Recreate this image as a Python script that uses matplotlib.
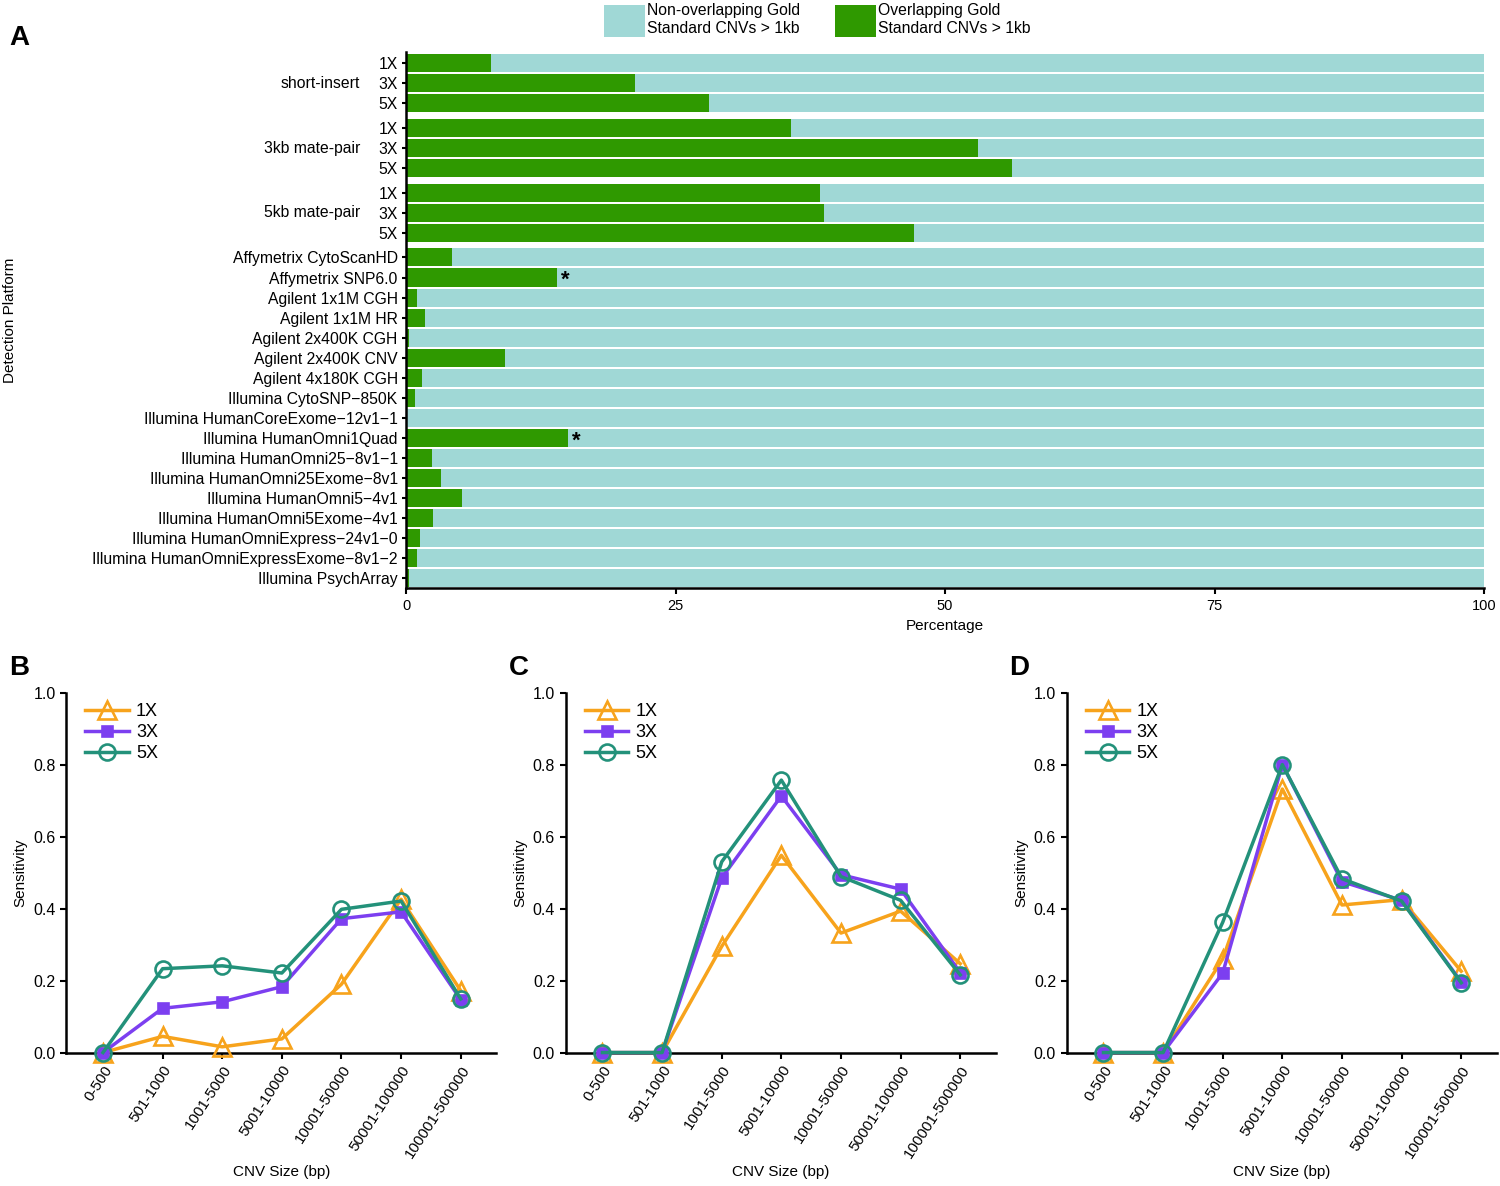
import matplotlib
matplotlib.use("Agg")
import matplotlib.pyplot as plt
import matplotlib.transforms as mtransforms
from matplotlib.patches import Patch
import numpy as np

plt.rcParams["font.family"] = ["Liberation Sans", "DejaVu Sans"]

# ---- panel A data ----
GROUPS = ["short-insert", "3kb mate-pair", "5kb mate-pair"]
COVERAGES = ["1X", "3X", "5X"]
GROUP_VALUES = [
    [7.9, 21.2, 28.1],
    [35.7, 53.1, 56.2],
    [38.4, 38.8, 47.1],
]
ARRAYS = [
    "Affymetrix CytoScanHD",
    "Affymetrix SNP6.0",
    "Agilent 1x1M CGH",
    "Agilent 1x1M HR",
    "Agilent 2x400K CGH",
    "Agilent 2x400K CNV",
    "Agilent 4x180K CGH",
    "Illumina CytoSNP\u2212850K",
    "Illumina HumanCoreExome\u221212v1\u22121",
    "Illumina HumanOmni1Quad",
    "Illumina HumanOmni25\u22128v1\u22121",
    "Illumina HumanOmni25Exome\u22128v1",
    "Illumina HumanOmni5\u22124v1",
    "Illumina HumanOmni5Exome\u22124v1",
    "Illumina HumanOmniExpress\u221224v1\u22120",
    "Illumina HumanOmniExpressExome\u22128v1\u22122",
    "Illumina PsychArray",
]
ARRAY_VALUES = [4.3, 14.0, 1.0, 1.8, 0.3, 9.2, 1.45, 0.8, 0.1, 15.0,
                2.4, 3.2, 5.2, 2.5, 1.3, 1.0, 0.3]
STARRED = ["Affymetrix SNP6.0", "Illumina HumanOmni1Quad"]

# ---- panels B-D data ----
SIZE_BINS = ["0-500", "501-1000", "1001-5000", "5001-10000",
             "10001-50000", "50001-100000", "100001-500000"]
SENS_B = {
    "1X": [0.0, 0.045, 0.016, 0.038, 0.19, 0.426, 0.172],
    "3X": [0.0, 0.123, 0.141, 0.183, 0.372, 0.391, 0.147],
    "5X": [0.0, 0.233, 0.241, 0.221, 0.398, 0.421, 0.149],
}
SENS_C = {
    "1X": [0.0, 0.0, 0.295, 0.548, 0.332, 0.393, 0.247],
    "3X": [0.0, 0.0, 0.485, 0.713, 0.494, 0.454, 0.222],
    "5X": [0.0, 0.0, 0.530, 0.757, 0.489, 0.423, 0.216],
}
SENS_D = {
    "1X": [0.0, 0.0, 0.26, 0.732, 0.41, 0.425, 0.226],
    "3X": [0.0, 0.0, 0.221, 0.80, 0.475, 0.423, 0.196],
    "5X": [0.0, 0.0, 0.362, 0.80, 0.483, 0.421, 0.194],
}

GREEN = "#2f9900"
LIGHT = "#a0d8d6"
LINE_STYLES = {
    "1X": dict(color="#f7a31c", marker="^", markerfacecolor="none", markersize=13),
    "3X": dict(color="#7c3ff0", marker="s", markersize=6.5),
    "5X": dict(color="#23917a", marker="o", markerfacecolor="none", markersize=11.5),
}


def draw_panel_a(fig):
    ax = fig.add_axes([0.2707, 0.504, 0.7187, 0.452])
    gap = 0.23
    positions, values, labels = [], [], []
    group_centers = []
    pos = 0.0
    for g, vals in zip(GROUPS, GROUP_VALUES):
        for j, (cov, v) in enumerate(zip(COVERAGES, vals)):
            positions.append(pos)
            values.append(v)
            labels.append(cov)
            if j == 1:
                group_centers.append((g, pos))
            pos += 1
        pos += gap
    for name, v in zip(ARRAYS, ARRAY_VALUES):
        positions.append(pos)
        values.append(v)
        labels.append(name)
        pos += 1

    positions = np.array(positions)
    values = np.array(values)
    h = 0.9
    ax.barh(positions, 100 - values, left=values, height=h, color=LIGHT, linewidth=0)
    ax.barh(positions, values, height=h, color=GREEN, linewidth=0)

    for name, p, v in zip(labels, positions, values):
        if name in STARRED:
            ax.text(v + 0.4, p + 0.15, "*", fontsize=16, fontweight="bold",
                    va="center", ha="left")

    ax.set_yticks(positions)
    ax.set_yticklabels(labels, fontsize=11.3)
    trans = mtransforms.blended_transform_factory(ax.transAxes, ax.transData)
    for g, p in group_centers:
        ax.text(-0.0425, p, g, transform=trans, ha="right", va="center", fontsize=11.3)

    ax.set_ylim(positions[-1] + 0.5, positions[0] - 0.55)
    ax.set_xlim(0, 100)
    ax.set_xticks([0, 25, 50, 75, 100])
    ax.tick_params(axis="x", labelsize=10.5, length=4, width=1.5, pad=4)
    ax.tick_params(axis="y", length=3, width=1.5, pad=3)
    ax.margins(0)
    for side in ("top", "right"):
        ax.spines[side].set_visible(False)
    for side in ("left", "bottom"):
        ax.spines[side].set_linewidth(1.8)
    ax.set_xlabel("Percentage", fontsize=11, labelpad=4)
    fig.text(0.007, 0.73, "Detection Platform", rotation=90, fontsize=11,
             ha="center", va="center")

    handles = [Patch(facecolor=LIGHT, edgecolor="none"),
               Patch(facecolor=GREEN, edgecolor="none")]
    fig.legend(handles,
               ["Non-overlapping Gold\nStandard CNVs > 1kb",
                "Overlapping Gold\nStandard CNVs > 1kb"],
               loc="upper center", bbox_to_anchor=(0.545, 1.009), ncol=2,
               frameon=False, fontsize=11.3, handlelength=2.6, handleheight=2.8,
               handletextpad=0.15, columnspacing=2.2)


def draw_sens_panel(fig, rect, data):
    ax = fig.add_axes(rect)
    x = np.arange(len(SIZE_BINS))
    for cov in COVERAGES:
        ax.plot(x, data[cov], label=cov, linewidth=2.5, markeredgewidth=1.9,
                clip_on=False, zorder=3, **LINE_STYLES[cov])
    ax.set_xlim(-0.62, 6.6)
    ax.set_ylim(0, 1.0)
    ax.set_yticks([0, 0.2, 0.4, 0.6, 0.8, 1.0])
    ax.set_yticklabels(["0.0", "0.2", "0.4", "0.6", "0.8", "1.0"])
    ax.set_xticks(x)
    ax.set_xticklabels(SIZE_BINS, rotation=57, ha="right", rotation_mode="anchor")
    ax.tick_params(axis="y", labelsize=11.5, length=4, width=1.5)
    ax.tick_params(axis="x", labelsize=11, length=4, width=1.5)
    for side in ("top", "right"):
        ax.spines[side].set_visible(False)
    for side in ("left", "bottom"):
        ax.spines[side].set_linewidth(1.8)
    ax.set_ylabel("Sensitivity", fontsize=11)
    ax.set_xlabel("CNV Size (bp)", fontsize=11, labelpad=3)
    ax.legend(loc="upper left", bbox_to_anchor=(0.02, 1.0), frameon=False,
              fontsize=13, handlelength=2.4, labelspacing=0.22,
              handletextpad=0.4, borderaxespad=0.2)
    return ax


def main():
    fig = plt.figure(figsize=(15, 11.86), dpi=100)
    draw_panel_a(fig)

    w, hgt, bottom = 0.287, 0.3035, 0.1125
    draw_sens_panel(fig, [0.044, bottom, w, hgt], SENS_B)
    draw_sens_panel(fig, [0.377, bottom, w, hgt], SENS_C)
    draw_sens_panel(fig, [0.711, bottom, w, hgt], SENS_D)

    for letter, xp, yp in [("A", 0.006, 0.968), ("B", 0.006, 0.437),
                           ("C", 0.339, 0.437), ("D", 0.673, 0.437)]:
        fig.text(xp, yp, letter, fontsize=20, fontweight="bold", va="center")

    fig.savefig("out.png", dpi=100)
    plt.close(fig)


if __name__ == "__main__":
    main()
